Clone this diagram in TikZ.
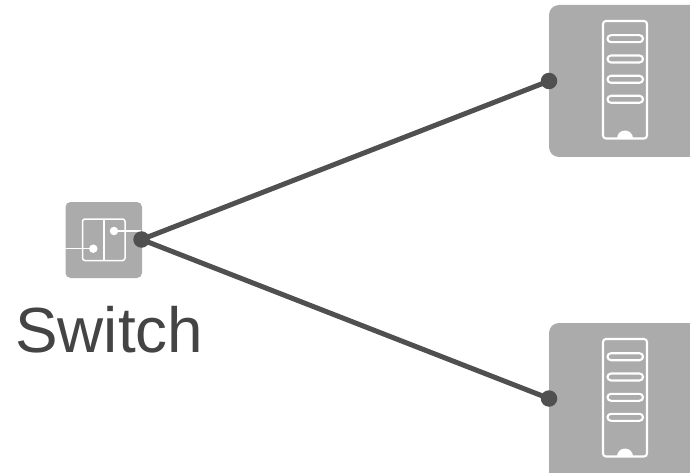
\documentclass[tikz,border=0pt]{standalone}
\usepackage{fontspec}
\setmainfont{Liberation Sans}
\definecolor{boxgray}{HTML}{ABABAB}
\definecolor{darkgray}{HTML}{505050}
\definecolor{labelgray}{HTML}{444444}
\tikzset{
  x=1pt,y=-1pt,
  devbox/.style={fill=boxgray,draw=none,rounded corners=#1},
  glyph/.style={draw=white,line width=2.1pt,fill=none},
  glyphthin/.style={draw=white,line width=1.5pt,fill=none},
  whitedot/.style={circle,fill=white,draw=none,inner sep=0pt,minimum size=8.5pt},
  portdot/.style={circle,fill=darkgray,draw=none,inner sep=0pt,minimum size=16.5pt},
  link/.style={draw=darkgray,line width=5pt},
  caption/.style={text=labelgray,font=\fontsize{63.8}{64}\selectfont,inner sep=0pt,anchor=base},
}
\newcommand{\serverglyph}[1]{%
  \begin{scope}[shift={(0,#1)}]
    \fill[white] (617,138.5) arc[start angle=180,end angle=360,radius=8] -- cycle;
    \draw[glyph,rounded corners=3pt] (603,21) rectangle (647,138.5);
    \draw[glyph,rounded corners=3.5pt] (607.5,35.2) rectangle (643,42.2);
    \draw[glyph,rounded corners=3.5pt] (607.5,55.5) rectangle (643,62.5);
    \draw[glyph,rounded corners=3.5pt] (607.5,75.8) rectangle (643,82.8);
    \draw[glyph,rounded corners=3.5pt] (607.5,95.8) rectangle (643,102.8);
  \end{scope}}
\begin{document}
\begin{tikzpicture}
\useasboundingbox (0,0) rectangle (690,473);
\clip (0,0) rectangle (690,473);
% switch
\fill[devbox=5pt] (65.5,202) rectangle (142,278);
\draw[glyphthin,rounded corners=2.5pt] (82.5,219) rectangle (125,260.5);
\draw[glyphthin] (104,219) -- (104,260.5);
\node[whitedot] (swa) at (93.3,248.7) {};
\node[whitedot] (swb) at (114,231) {};
\coordinate (swin) at (65.5,248.7);
\coordinate (swout) at (141,231);
\draw[glyphthin] (swin) -- (swa);
\draw[glyphthin] (swb) -- (swout);
% servers
\fill[devbox=10pt] (549,5) rectangle (720,157);
\fill[devbox=10pt] (549,323) rectangle (720,490);
\serverglyph{0}
\serverglyph{318}
% ports
\node[portdot] (sw) at (141.5,239.5) {};
\node[portdot] (srvA) at (549,81) {};
\node[portdot] (srvB) at (549,398.5) {};
\draw[link] (sw.center) -- (srvA.center);
\draw[link] (sw.center) -- (srvB.center);
\node[caption] (label) at (109.3,352) {Switch};
\end{tikzpicture}
\end{document}
